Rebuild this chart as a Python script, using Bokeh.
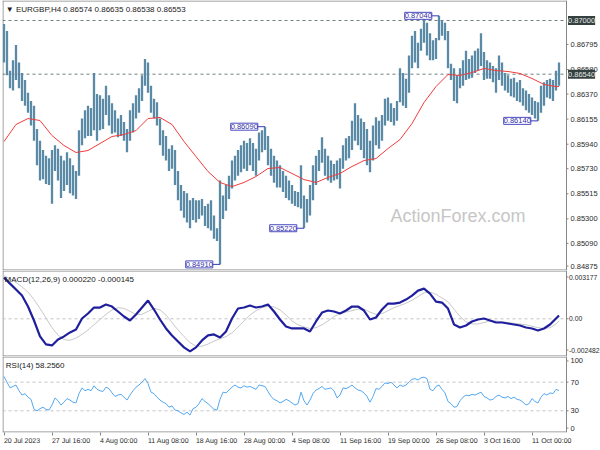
from bokeh.plotting import figure
from bokeh.models import Range1d, FixedTicker, Label
from bokeh.core.properties import value
from bokeh.layouts import column
from bokeh.embed import file_html
from bokeh.resources import INLINE

# ---------------- data ----------------
bar_high = [
    0.8697, 0.8691, 0.8657, 0.8666, 0.8679, 0.8664, 0.8655, 0.8649, 0.8638, 0.8631,
    0.8627, 0.8607, 0.8597, 0.8589, 0.8584, 0.8582, 0.8589, 0.8593, 0.8590, 0.8584,
    0.8580, 0.8587, 0.8582, 0.8576, 0.8571, 0.8606, 0.8616, 0.8623, 0.8627, 0.8625,
    0.8655, 0.8637, 0.8636, 0.8633, 0.8644, 0.8636, 0.8629, 0.8623, 0.8616, 0.8619,
    0.8613, 0.8607, 0.8623, 0.8629, 0.8636, 0.8642, 0.8653, 0.8667, 0.8664, 0.8644,
    0.8633, 0.8630, 0.8616, 0.8606, 0.8601, 0.8590, 0.8593, 0.8589, 0.8571, 0.8559,
    0.8554, 0.8552, 0.8546, 0.8548, 0.8546, 0.8546, 0.8547, 0.8541, 0.8543, 0.8546,
    0.8533, 0.8522, 0.8563, 0.8550, 0.8559, 0.8567, 0.8580, 0.8584, 0.8589, 0.8593,
    0.8597, 0.8595, 0.8599, 0.8595, 0.8590, 0.8604, 0.8606, 0.8609, 0.8601, 0.8590,
    0.8584, 0.8580, 0.8576, 0.8571, 0.8567, 0.8563, 0.8559, 0.8554, 0.8553, 0.8576,
    0.8550, 0.8547, 0.8559, 0.8576, 0.8584, 0.8589, 0.8600, 0.8590, 0.8584, 0.8580,
    0.8577, 0.8580, 0.8582, 0.8593, 0.8599, 0.8601, 0.8614, 0.8629, 0.8619, 0.8616,
    0.8613, 0.8607, 0.8597, 0.8610, 0.8617, 0.8614, 0.8619, 0.8633, 0.8634, 0.8629,
    0.8625, 0.8631, 0.8659, 0.8655, 0.8650, 0.8670, 0.8687, 0.8691, 0.8681, 0.8693,
    0.8702, 0.8698, 0.8689, 0.8683, 0.8685, 0.8704, 0.8700, 0.8698, 0.8691, 0.8663,
    0.8659, 0.8653, 0.8659, 0.8666, 0.8674, 0.8667, 0.8670, 0.8674, 0.8676, 0.8689,
    0.8673, 0.8666, 0.8664, 0.8661, 0.8659, 0.8670, 0.8664, 0.8655, 0.8653, 0.8650,
    0.8651, 0.8647, 0.8649, 0.8642, 0.8640, 0.8637, 0.8634, 0.8631, 0.8630, 0.8644,
    0.8647, 0.8649, 0.8650, 0.8649, 0.8657, 0.8664,
]
bar_low = [
    0.8664, 0.8653, 0.8642, 0.8640, 0.8649, 0.8642, 0.8631, 0.8627, 0.8621, 0.8610,
    0.8597, 0.8576, 0.8563, 0.8564, 0.8560, 0.8559, 0.8543, 0.8571, 0.8563, 0.8548,
    0.8554, 0.8559, 0.8552, 0.8550, 0.8547, 0.8567, 0.8593, 0.8599, 0.8601, 0.8601,
    0.8606, 0.8597, 0.8606, 0.8607, 0.8619, 0.8610, 0.8603, 0.8604, 0.8600, 0.8601,
    0.8597, 0.8587, 0.8597, 0.8604, 0.8616, 0.8621, 0.8631, 0.8644, 0.8638, 0.8621,
    0.8616, 0.8610, 0.8593, 0.8584, 0.8580, 0.8571, 0.8573, 0.8559, 0.8546, 0.8537,
    0.8531, 0.8527, 0.8522, 0.8529, 0.8527, 0.8530, 0.8533, 0.8524, 0.8522, 0.8520,
    0.8513, 0.8511, 0.8491, 0.8530, 0.8537, 0.8547, 0.8556, 0.8563, 0.8567, 0.8570,
    0.8573, 0.8571, 0.8576, 0.8571, 0.8567, 0.8580, 0.8587, 0.8589, 0.8576, 0.8567,
    0.8561, 0.8557, 0.8557, 0.8553, 0.8548, 0.8546, 0.8543, 0.8541, 0.8540, 0.8539,
    0.8522, 0.8527, 0.8533, 0.8546, 0.8559, 0.8571, 0.8578, 0.8567, 0.8563, 0.8561,
    0.8563, 0.8564, 0.8556, 0.8573, 0.8580, 0.8582, 0.8589, 0.8597, 0.8593, 0.8589,
    0.8582, 0.8576, 0.8570, 0.8580, 0.8593, 0.8590, 0.8597, 0.8610, 0.8614, 0.8613,
    0.8610, 0.8614, 0.8630, 0.8627, 0.8625, 0.8638, 0.8659, 0.8664, 0.8659, 0.8674,
    0.8681, 0.8670, 0.8666, 0.8666, 0.8667, 0.8683, 0.8687, 0.8683, 0.8659, 0.8649,
    0.8631, 0.8629, 0.8642, 0.8644, 0.8649, 0.8650, 0.8651, 0.8655, 0.8657, 0.8661,
    0.8649, 0.8650, 0.8650, 0.8647, 0.8638, 0.8649, 0.8644, 0.8640, 0.8638, 0.8635,
    0.8634, 0.8631, 0.8630, 0.8627, 0.8623, 0.8621, 0.8619, 0.8616, 0.8614, 0.8621,
    0.8627, 0.8634, 0.8633, 0.8631, 0.8640, 0.8644,
]
# moving average, one value every 4 bars (+ last bar)
ma_values = [
    0.85963, 0.86109, 0.86160, 0.86143, 0.86014, 0.85929, 0.85869, 0.85886,
    0.85946, 0.86006, 0.86023, 0.86057, 0.86160, 0.86169, 0.86109, 0.85963,
    0.85834, 0.85706, 0.85612, 0.85577, 0.85612, 0.85663, 0.85732, 0.85740,
    0.85689, 0.85637, 0.85612, 0.85655, 0.85689, 0.85749, 0.85800, 0.85817,
    0.85903, 0.85980, 0.86117, 0.86297, 0.86434, 0.86537, 0.86529, 0.86554,
    0.86589, 0.86571, 0.86563, 0.86546, 0.86503, 0.86452, 0.86434, 0.86434,
]
# MACD main / signal, one value every 2 bars (+ last bar)
macd_values = [
    0.002774, 0.002371, 0.001968, 0.001565, 0.000826, -0.000114, -0.001189, -0.001726,
    -0.001793, -0.001390, -0.001189, -0.000920, -0.000719, 0.000020, 0.000356, 0.000759,
    0.000759, 0.000960, 0.000826, 0.000490, 0.000154, -0.000114, 0.000289, 0.000759,
    0.001229, 0.000625, -0.000047, -0.000651, -0.001122, -0.001525, -0.001927, -0.002196,
    -0.001927, -0.001457, -0.001122, -0.001054, -0.001256, -0.000853, 0.000020, 0.000692,
    0.000759, 0.000893, 0.000759, 0.000826, 0.000960, 0.000490, -0.000047, -0.000517,
    -0.000651, -0.000651, -0.000651, -0.000853, -0.000181, 0.000423, 0.000557, 0.000490,
    0.000356, 0.000557, 0.000826, 0.000826, 0.000557, -0.000047, 0.000087, 0.000625,
    0.001028, 0.001028, 0.001095, 0.001296, 0.001565, 0.001901, 0.002035, 0.001699,
    0.001162, 0.001095, 0.000692, -0.000383, -0.000584, -0.000450, -0.000181, -0.000047,
    0.000020, -0.000114, -0.000248, -0.000248, -0.000316, -0.000383, -0.000450, -0.000584,
    -0.000651, -0.000786, -0.000651, -0.000383, 0.000020, 0.000220,
]
signal_values = [
    0.00290, 0.00270, 0.00245, 0.00215, 0.00180, 0.00130, 0.00070, 0.00005,
    -0.00060, -0.00110, -0.00140, -0.00145, -0.00130, -0.00105, -0.00075, -0.00040,
    -0.00005, 0.00030, 0.00060, 0.00075, 0.00070, 0.00050, 0.00030, 0.00030,
    0.00050, 0.00070, 0.00060, 0.00025, -0.00025, -0.00075, -0.00120, -0.00160,
    -0.00185, -0.00185, -0.00170, -0.00150, -0.00135, -0.00120, -0.00095, -0.00055,
    -0.00015, 0.00025, 0.00055, 0.00075, 0.00085, 0.00080, 0.00060, 0.00025,
    -0.00015, -0.00040, -0.00055, -0.00065, -0.00060, -0.00040, -0.00015, 0.00015,
    0.00035, 0.00045, 0.00055, 0.00065, 0.00065, 0.00045, 0.00030, 0.00035,
    0.00055, 0.00075, 0.00090, 0.00105, 0.00125, 0.00150, 0.00175, 0.00180,
    0.00165, 0.00140, 0.00115, 0.00065, 0.00015, -0.00020, -0.00035, -0.00035,
    -0.00025, -0.00015, -0.00015, -0.00020, -0.00025, -0.00030, -0.00035, -0.00040,
    -0.00050, -0.00060, -0.00065, -0.00060, -0.00035, -0.000145,
]
rsi_values = [
    78, 70, 62, 64, 66, 58, 52, 54, 49, 46,
    32, 30, 33, 35, 32, 31, 38, 48, 44, 38,
    42, 47, 45, 42, 41, 54, 62, 58, 60, 58,
    65, 60, 58, 57, 63, 61, 55, 50, 52, 53,
    49, 45, 52, 58, 63, 66, 70, 75, 68, 56,
    54, 49, 45, 42, 40, 35, 37, 31, 30, 27,
    25, 28, 24, 33, 35, 40, 47, 43, 40, 36,
    32, 31, 46, 56, 55, 59, 63, 66, 63, 62,
    65, 63, 64, 62, 60, 66, 65, 64, 57, 50,
    46, 44, 41, 43, 46, 44, 41, 38, 40, 56,
    44, 38, 45, 54, 59, 61, 64, 60, 61, 62,
    58, 48, 52, 62, 61, 63, 66, 62, 59, 58,
    55, 50, 42, 50, 61, 60, 64, 69, 68, 70,
    66, 62, 66, 64, 66, 70, 74, 75, 73, 76,
    77, 75, 60, 58, 64, 66, 60, 55, 43, 40,
    35, 36, 44, 49, 52, 51, 53, 52, 54, 56,
    50, 48, 45, 46, 50, 52, 49, 48, 50, 47,
    49, 46, 45, 42, 38, 40, 47, 43, 41, 49,
    54, 52, 55, 54, 60, 58.256,
]
price_ticks = [0.86795, 0.86580, 0.86370, 0.86155, 0.85940,
               0.85730, 0.85515, 0.85300, 0.85090, 0.84875]
price_lines = [0.87000, 0.86540]
marked_prices = [0.87040, 0.86090, 0.84910, 0.85220, 0.86140]
marked_bars = [145, 87, 72, 100, 178]
date_labels = ["20 Jul 2023", "27 Jul 16:00", "4 Aug 00:00", "11 Aug 08:00",
               "18 Aug 16:00", "28 Aug 00:00", "4 Sep 08:00", "11 Sep 16:00",
               "19 Sep 00:00", "26 Sep 08:00", "3 Oct 16:00", "11 Oct 00:00"]
date_bars = [0, 16, 32, 48, 64, 80, 96, 112, 128, 144, 160, 176]
macd_ticks = [0.003177, 0.0, -0.002482]
macd_tick_text = ["0.003177", "0.00", "-0.002482"]
rsi_ticks = [100, 70, 30, 0]
rsi_levels = [70, 30]

# ---------------- styling / geometry ----------------
FONT = "Liberation Sans"
BAR_C = "#5b8aa6"
OUT_C = "#858585"
TXT_C = "#2a2a2a"
W = 600
LB = 2                         # left border
SC = 3.0                       # pixels per bar
X0, X1 = -0.5, 187.5           # bar-index extent of the chart area
XE = X0 + (W - LB) / SC        # includes the price-scale strip on the right
n = len(bar_high)
idx = list(range(n))
ma_idx = list(range(0, n, 4)) + [n - 1]
m_idx = list(range(0, n, 2)) + [n - 1]
x_rng = Range1d(X0, XE)


def panel(height, y0, y1, bottom=0):
    f = figure(width=W, height=height, x_range=x_rng, y_range=Range1d(y0, y1),
               output_backend="svg", toolbar_location=None,
               x_axis_location="below" if bottom else None, y_axis_location=None,
               min_border_left=LB, min_border_right=0, min_border_top=0,
               min_border_bottom=bottom)
    f.grid.visible = False
    f.outline_line_color = None
    return f


def scale(f, y0, y1, px, ticks, texts, pad=4.5, size="7.5px", gap=4):
    """frame border, price-scale line, ticks and labels on the right strip"""
    f.segment(x0=[X0, X0], y0=[y0 + 0.5 * px, y1 - 0.5 * px], x1=[X1, X1],
              y1=[y0 + 0.5 * px, y1 - 0.5 * px], line_color=OUT_C, line_width=1)
    f.segment(x0=[X0 + 0.5 / SC, X1], y0=[y0, y0], x1=[X0 + 0.5 / SC, X1], y1=[y1, y1],
              line_color=OUT_C, line_width=1)
    ly = [min(max(v, y0 + pad * px), y1 - pad * px) for v in ticks]
    f.segment(x0=[X1] * len(ly), y0=ly, x1=[X1 + 2 / SC] * len(ly), y1=ly, line_color=OUT_C)
    f.text(x=[X1 + gap / SC] * len(ly), y=ly, text=texts, text_font=value(FONT),
           text_font_size=size, text_color=TXT_C, text_baseline="middle",
           text_align="left")


def hline(f, levels, color):
    f.segment(x0=[X0] * len(levels), y0=levels, x1=[X1] * len(levels), y1=levels,
              line_color=color, line_dash="3 3", line_width=1)


# ---------------- main price panel ----------------
PX1 = 1 / 11670.0                          # price per pixel
Y0, Y1 = 0.87 - 250 * PX1, 0.87 + 20 * PX1
p1 = panel(270, Y0, Y1)
scale(p1, Y0, Y1, PX1, price_ticks, [f"{v:.5f}" for v in price_ticks])
hline(p1, price_lines, "#6f7f7f")

p1.add_layout(Label(x=128.8, y=0.853205, text="ActionForex.com", text_font=FONT,
                    text_font_size="18px", text_color="#c6c6c6",
                    text_baseline="middle", text_align="left"))

p1.segment(x0=idx, y0=bar_low, x1=idx, y1=bar_high, line_color=BAR_C, line_width=2.3)
p1.line(ma_idx, ma_values, line_color="#f03c3c", line_width=1)

for pr, b in zip(marked_prices, marked_bars):
    p1.segment(x0=[b - 2.4], y0=[pr], x1=[b], y1=[pr], line_color="#3b3bb5", line_width=1)
    p1.add_layout(Label(x=b - 2.4, y=pr, text=f"{pr:.5f}", text_font=FONT,
                        text_font_size="7.5px", text_color="#3030a8",
                        text_align="right", text_baseline="middle",
                        background_fill_color="white", border_line_color="#4a4ac0",
                        padding=(0, 1)))

for lv in price_lines:
    p1.add_layout(Label(x=X1 + 1.5 / SC, y=lv, text=f"{lv:.5f}", text_font=FONT,
                        text_font_size="7.5px", text_color="#e8e8e8",
                        text_align="left", text_baseline="middle",
                        background_fill_color="#34403f", padding=(0, 2)))

p1.add_layout(Label(x=0.6, y=Y1, text="\u25bc  EURGBP,H4  0.86574 0.86635 0.86538 0.86553",
                    text_font=FONT, text_font_size="8px", text_color="#202020",
                    text_align="left", text_baseline="top", y_offset=-4))

# ---------------- MACD panel ----------------
PX2 = 1 / 14843.0
M0, M1 = -37.7 * PX2, 48.3 * PX2
p2 = panel(86, M0, M1)
scale(p2, M0, M1, PX2, macd_ticks, macd_tick_text, pad=6.5, size="6.8px", gap=2.5)
hline(p2, [0.0], "#c4c4c4")
p2.line(m_idx, signal_values, line_color="#c8c8c8", line_width=1)
p2.line(m_idx, macd_values, line_color="#1f1f9e", line_width=2.2)
p2.add_layout(Label(x=0.2, y=M1, text="MACD(12,26,9) 0.000220 -0.000145",
                    text_font=FONT, text_font_size="8px", text_color="#202020",
                    text_align="left", text_baseline="top", y_offset=-4))

# ---------------- RSI panel ----------------
PX3 = 1 / 0.725
R0, R1 = 30 - 22 * PX3, 70 + 26 * PX3
p3 = panel(94, R0, R1, bottom=17)
scale(p3, R0, R1, PX3, rsi_ticks, [str(v) for v in rsi_ticks])
hline(p3, rsi_levels, "#c4c4c4")
p3.line(idx, rsi_values, line_color="#55a8f2", line_width=1)
p3.add_layout(Label(x=0.6, y=R1, text="RSI(14) 58.2560", text_font=FONT,
                    text_font_size="8px", text_color="#202020",
                    text_align="left", text_baseline="top", y_offset=-4))

xa = p3.xaxis[0]
xa.ticker = FixedTicker(ticks=date_bars)
xa.major_label_overrides = {b: t for b, t in zip(date_bars, date_labels)}
xa.major_label_orientation = -0.0005     # tiny angle -> labels start at their tick
xa.axis_line_color = None
xa.major_tick_out = 3
xa.major_tick_in = 0
xa.minor_tick_out = 0
xa.minor_tick_in = 0
xa.major_tick_line_color = OUT_C
xa.major_label_standoff = 5
xa.major_label_text_font = FONT
xa.major_label_text_font_size = "7px"
xa.major_label_text_color = TXT_C

layout = column(p1, p2, p3, spacing=0)
open("out.html", "w").write(file_html(layout, INLINE))
